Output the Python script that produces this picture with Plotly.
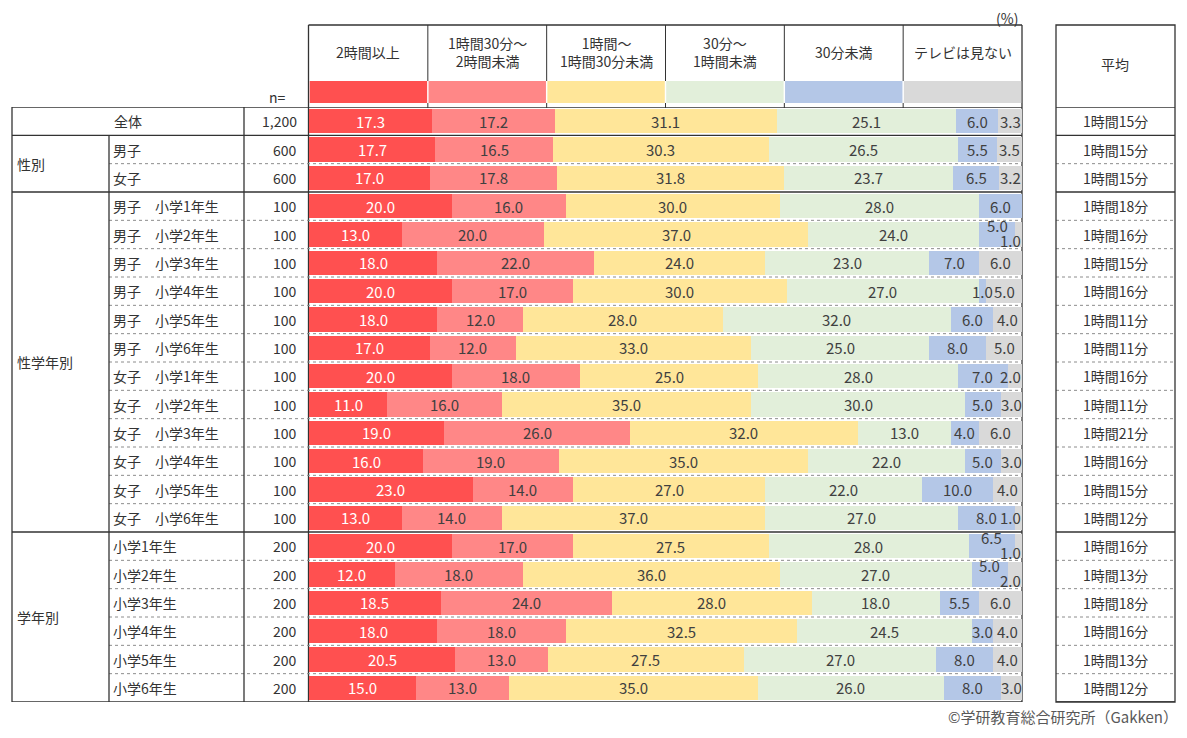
import plotly.graph_objects as go

# --- data ---
categories = ["2時間以上", "1時間30分～<br>2時間未満", "1時間～<br>1時間30分未満",
              "30分～<br>1時間未満", "30分未満", "テレビは見ない"]
colors = ["#FF5050", "#FF8787", "#FFE699", "#E2EFDA", "#B4C7E7", "#D9D9D9"]

rows = ["全体", "男子", "女子",
        "男子　小学1年生", "男子　小学2年生", "男子　小学3年生", "男子　小学4年生",
        "男子　小学5年生", "男子　小学6年生",
        "女子　小学1年生", "女子　小学2年生", "女子　小学3年生", "女子　小学4年生",
        "女子　小学5年生", "女子　小学6年生",
        "小学1年生", "小学2年生", "小学3年生", "小学4年生", "小学5年生", "小学6年生"]
n_values = ["1,200", "600", "600"] + ["100"] * 12 + ["200"] * 6
groups = [("性別", 1, 2), ("性学年別", 3, 14), ("学年別", 15, 20)]

over2h = [17.3, 17.7, 17.0, 20, 13, 18, 20, 18, 17, 20, 11, 19, 16, 23, 13, 20, 12, 18.5, 18, 20.5, 15]
h130_2h = [17.2, 16.5, 17.8, 16, 20, 22, 17, 12, 12, 18, 16, 26, 19, 14, 14, 17, 18, 24, 18, 13, 13]
h1_130 = [31.1, 30.3, 31.8, 30, 37, 24, 30, 28, 33, 25, 35, 32, 35, 27, 37, 27.5, 36, 28, 32.5, 27.5, 35]
m30_1h = [25.1, 26.5, 23.7, 28, 24, 23, 27, 32, 25, 28, 30, 13, 22, 22, 27, 28, 27, 18, 24.5, 27, 26]
under30 = [6.0, 5.5, 6.5, 6, 5, 7, 1, 6, 8, 7, 5, 4, 5, 10, 8, 6.5, 5, 5.5, 3, 8, 8]
no_tv = [3.3, 3.5, 3.2, 0, 1, 6, 5, 4, 5, 2, 3, 6, 3, 4, 1, 1, 2, 6, 4, 4, 3]
series = [over2h, h130_2h, h1_130, m30_1h, under30, no_tv]

averages = ["1時間15分", "1時間15分", "1時間15分",
            "1時間18分", "1時間16分", "1時間15分", "1時間16分", "1時間11分", "1時間11分",
            "1時間16分", "1時間11分", "1時間21分", "1時間16分", "1時間15分", "1時間12分",
            "1時間16分", "1時間13分", "1時間18分", "1時間16分", "1時間13分", "1時間12分"]

# --- layout helpers (window pixels -> paper); the page body has an 8px margin ---
OFF = 8
W, H = 1187 - 2 * OFF, 738 - 2 * OFF
def px(x):
    return (x - OFF) / W
def py(y):
    return 1 - (y - OFF) / H

FONT = "Noto Sans CJK JP"
TXT = "#333333"
nrow = len(rows)
idx = list(range(nrow))

fig = go.Figure()
for k in range(6):
    fig.add_trace(go.Bar(y=idx, x=series[k], orientation="h", width=0.85,
                         marker=dict(color=colors[k], line=dict(width=0)),
                         name=categories[k], hoverinfo="x"))

shapes = []
annotations = []

def hline(y, x0, x1, dash="solid", color="#333333", w=1.3):
    shapes.append(dict(type="line", xref="paper", yref="y", x0=px(x0), x1=px(x1),
                       y0=y, y1=y, line=dict(color=color, width=w, dash=dash)))

def vline(x, y0, y1, w=1.3, layer="above"):
    shapes.append(dict(type="line", xref="paper", yref="paper", x0=px(x), x1=px(x),
                       y0=py(y0), y1=py(y1), line=dict(color="#333333", width=w),
                       layer=layer))

def label(x, y, text, size=14, xanchor="center", yref="paper", color=TXT, yanchor="middle"):
    annotations.append(dict(x=x, y=y, xref="paper", yref=yref, text=text, showarrow=False,
                            xanchor=xanchor, yanchor=yanchor,
                            font=dict(size=size, color=color, family=FONT)))

# solid group separators and dotted row separators
solid = [-0.5, 0.5, 2.5, 14.5, 20.5]
for b in solid:
    hline(b, 12, 1022)
    hline(b, 1056, 1175)
for b in [1.5] + [i + 0.5 for i in range(3, 14)] + [i + 0.5 for i in range(15, 20)]:
    hline(b, 109, 1022, dash="dot", color="#8C8C8C", w=1)
    hline(b, 1056, 1175, dash="dot", color="#8C8C8C", w=1)

# verticals of the left table
vline(12, 107, 702)
shapes.append(dict(type="line", xref="paper", yref="y", x0=px(109), x1=px(109),
                   y0=0.5, y1=20.5, line=dict(color="#333333", width=1.3)))
vline(244, 107, 702)
vline(308.5, 25, 702, layer="below")
vline(1022, 25, 702, layer="below")
# header box
shapes.append(dict(type="line", xref="paper", yref="paper", x0=px(308.5), x1=px(1022),
                   y0=py(25), y1=py(25), line=dict(color="#333333", width=1.3)))
for k in range(1, 6):
    xk = 309 + 713 * k / 6
    vline(xk, 25, 81, w=1)
    vline(xk, 103, 108, w=1)
# average table box
shapes.append(dict(type="rect", xref="paper", yref="paper", x0=px(1056), x1=px(1175),
                   y0=py(702), y1=py(25), line=dict(color="#333333", width=1.3)))

# legend swatches and header texts
for k in range(6):
    shapes.append(dict(type="rect", xref="x", yref="paper", x0=100 * k / 6 + 0.1,
                       x1=100 * (k + 1) / 6 - 0.1, y0=py(103), y1=py(81),
                       fillcolor=colors[k], line=dict(width=0)))
    annotations.append(dict(x=100 * (k + 0.5) / 6, y=py(52), xref="x", yref="paper",
                            text=categories[k], showarrow=False,
                            xanchor="center", yanchor="middle",
                            font=dict(size=14, color=TXT, family=FONT)))

label(px(1020), py(18), "(%)", size=14, xanchor="right")
label(px(1115), py(64), "平均", size=14)
label(px(277), py(97), "n=", size=14)
label(px(1180), py(729), "©学研教育総合研究所（Gakken）", size=15, xanchor="right",
      color="#595959", yanchor="bottom")

# row labels, n, averages
for i in idx:
    if i == 0:
        label(px(128), i, rows[i], yref="y")
    else:
        label(px(111), i, rows[i], xanchor="left", yref="y")
    label(px(299), i, n_values[i], xanchor="right", yref="y")
    label(px(1115), i, averages[i], yref="y")

for name, a, b in groups:
    label(px(15), (a + b) / 2, name, xanchor="left", yref="y")

# value labels on the bars
stacked = [4, 15, 16]
for i in idx:
    left = 0
    for k in range(6):
        v = series[k][i]
        if v > 0:
            ann = dict(x=left + v / 2, y=i, xref="x", yref="y", text=f"{v:.1f}",
                       showarrow=False, xanchor="center", yanchor="middle",
                       font=dict(size=15, family=FONT,
                                 color="white" if k == 0 else "#404040"))
            if k == 5 and v < 3:
                ann.update(x=100, xanchor="right", xshift=1)
            if i in stacked and k == 4:
                ann.update(yshift=9)
            if i in stacked and k == 5:
                ann.update(yshift=-6)
            annotations.append(ann)
        left += v

fig.update_layout(
    barmode="stack", width=W, height=H, autosize=False,
    margin=dict(l=0, r=0, t=0, b=0),
    paper_bgcolor="white", plot_bgcolor="white", showlegend=False,
    xaxis=dict(domain=[px(309), px(1022)], range=[0, 100], visible=False, fixedrange=True),
    yaxis=dict(domain=[py(702), py(107)], range=[20.5, -0.5], visible=False, fixedrange=True),
    shapes=shapes, annotations=annotations,
    font=dict(family=FONT, color=TXT),
)

fig.write_html("out.html")
